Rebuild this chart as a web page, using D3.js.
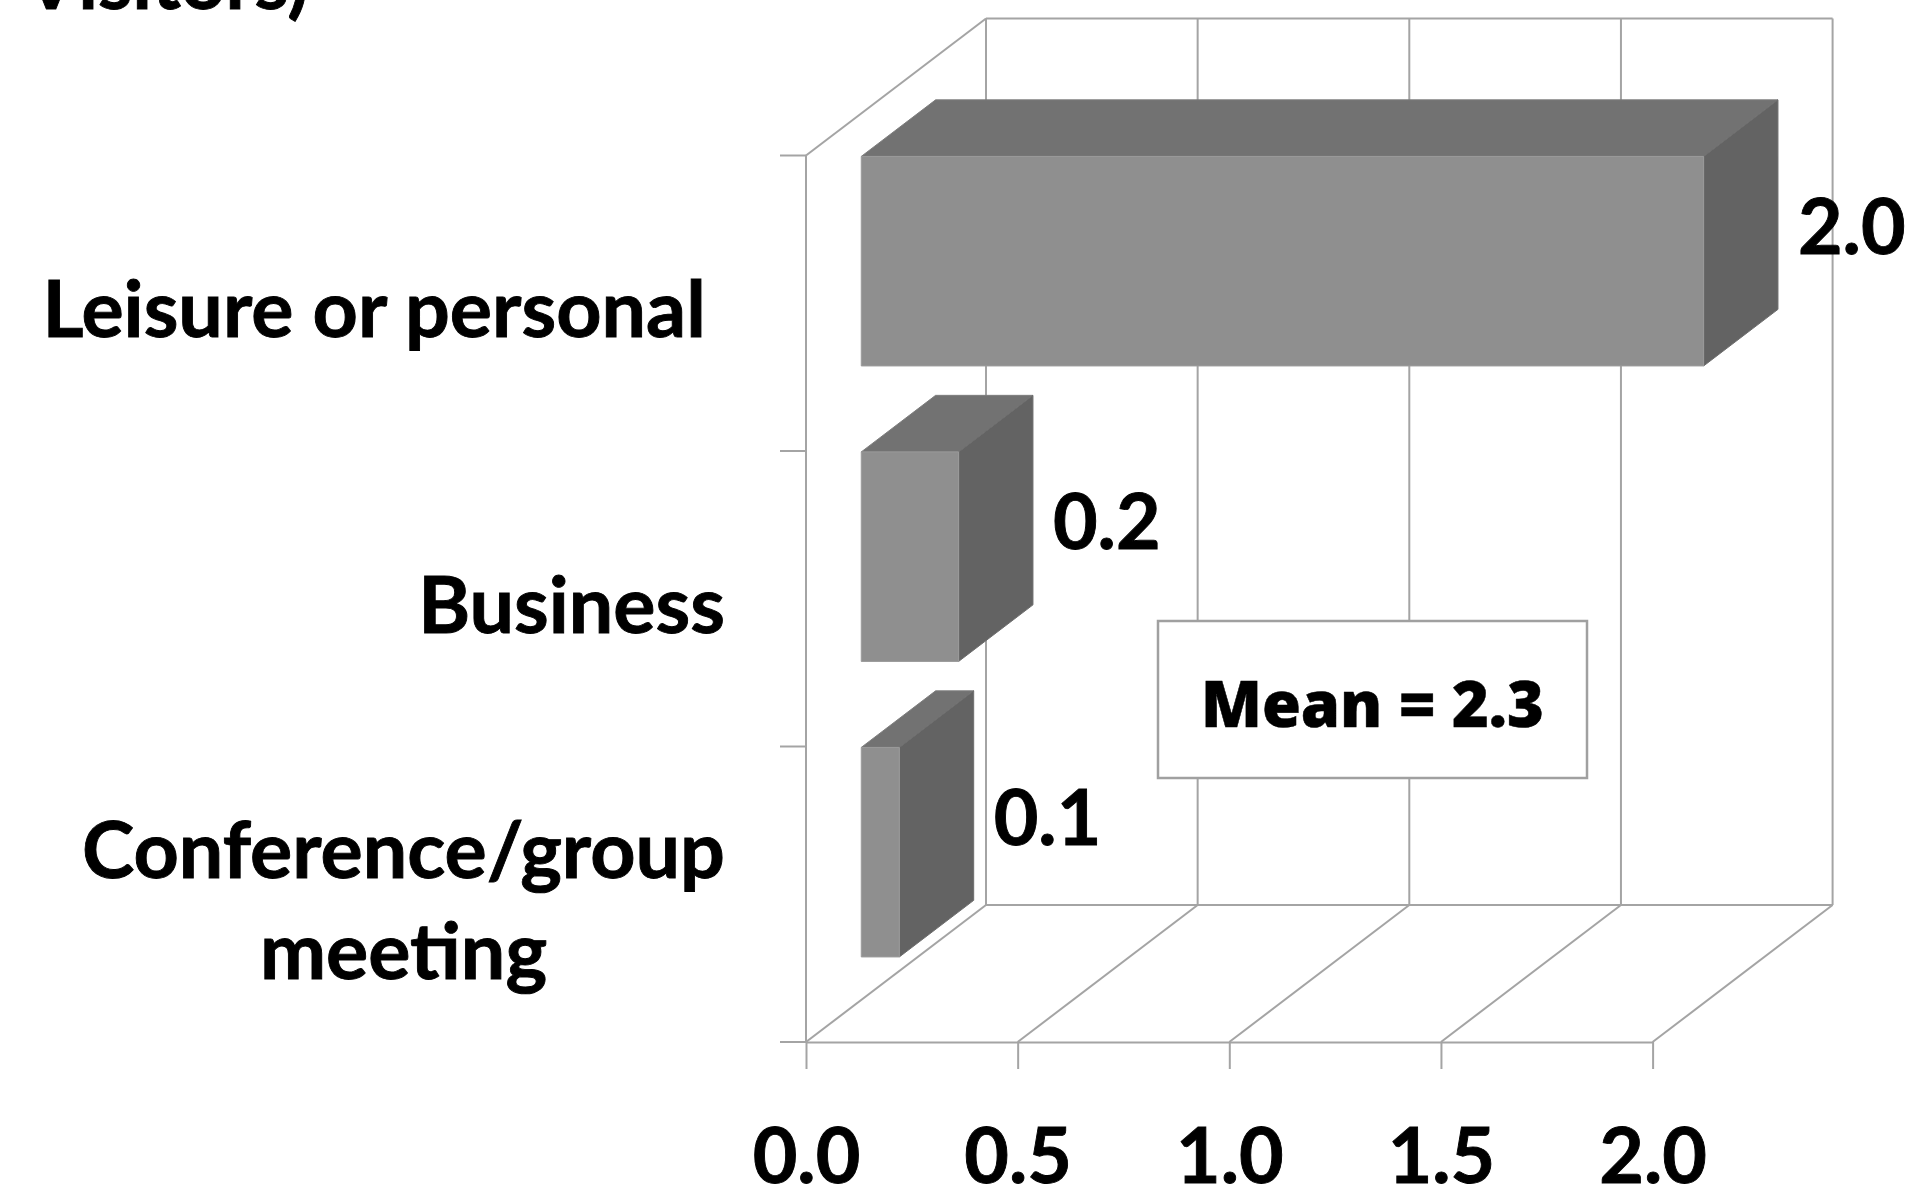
<!DOCTYPE html>
<html>
<head>
<meta charset="utf-8">
<script src="https://cdn.jsdelivr.net/npm/d3@7/dist/d3.min.js"></script>
<style>
  html, body { margin: 0; padding: 0; background: #ffffff; }
  svg { display: block; }
  text { font-family: Lato, "Open Sans", sans-serif; font-weight: 700; fill: #000; stroke: #000; stroke-width: 0.9px; }
</style>
</head>
<body>
<svg id="chart" width="1921" height="1191"></svg>
<script>
// ---- data ----
const titleText = "Visitors)";
const categories = ["Leisure or personal ", "Business", "Conference/group\nmeeting"];
const values = [1.99, 0.23, 0.09];
const xTicks = [0, 0.5, 1.0, 1.5, 2.0];
const meanPrefix = "Mean = ";

// ---- layout ----
const W = 1921, H = 1191;
const L = { x0: 806, x1: 1652.6, yTop: 155.5, yBot: 1042, dx: 180, dy: -137, tF: 0.307, tB: 0.72 };
const gridColor = "#a4a4a4";
const fmt = d3.format(".1f");

const svg = d3.select("#chart");

const x = d3.scaleLinear().domain([0, 2]).range([L.x0, L.x1]);
const y = d3.scaleBand().domain(categories).range([L.yTop, L.yBot])
  .paddingInner(0.291).paddingOuter(0.1455);
const P = (v, yy, t) => [x(v) + t * L.dx, yy + t * L.dy];

const grid = svg.append("g").attr("stroke", gridColor).attr("stroke-width", 2).attr("fill", "none");
const seg = (a, b) => grid.append("line").attr("x1", a[0]).attr("y1", a[1]).attr("x2", b[0]).attr("y2", b[1]);

// back wall
xTicks.forEach(v => seg(P(v, L.yBot, 1), P(v, L.yTop, 1)));
seg(P(0, L.yTop, 1), P(2, L.yTop, 1));
// floor
seg(P(0, L.yBot, 1), P(2, L.yBot, 1));
xTicks.forEach(v => seg(P(v, L.yBot, 0), P(v, L.yBot, 1)));
// left wall
seg(P(0, L.yTop, 0), P(0, L.yBot, 0));
seg(P(0, L.yTop, 0), P(0, L.yTop, 1));
// category ticks
const step = y.step();
for (let i = 0; i <= categories.length; i++) {
  const yy = L.yTop + i * step;
  seg([x(0) - 26, yy], [x(0), yy]);
}

// x axis (front floor edge + ticks + labels)
const xAxis = d3.axisBottom(x).tickValues(xTicks).tickFormat(fmt).tickSize(27).tickSizeOuter(0);
const ax = svg.append("g").attr("transform", `translate(0,${L.yBot})`).call(xAxis);
ax.select(".domain").attr("stroke", gridColor).attr("stroke-width", 2);
ax.selectAll(".tick line").attr("stroke", gridColor).attr("stroke-width", 2);
ax.selectAll(".tick text")
  .attr("y", 141).attr("dy", null)
  .style("font-family", "Lato, sans-serif").style("font-weight", 700)
  .style("font-size", "77px").attr("fill", "#000");

// bars
const data = categories.map((c, i) => ({ c, v: values[i] }));
const bw = y.bandwidth();
const poly = pts => pts.map(p => p.join(",")).join(" ");
const bars = svg.append("g");
data.forEach(d => {
  const y0 = y(d.c), y1 = y0 + bw;
  bars.append("polygon").attr("points", poly([P(0, y0, L.tF), P(0, y0, L.tB), P(d.v, y0, L.tB), P(d.v, y0, L.tF)]))
    .attr("fill", "#727272").attr("stroke", "#7e7e7e").attr("stroke-width", 1);
  bars.append("polygon").attr("points", poly([P(d.v, y0, L.tF), P(d.v, y0, L.tB), P(d.v, y1, L.tB), P(d.v, y1, L.tF)]))
    .attr("fill", "#636363").attr("stroke", "#6e6e6e").attr("stroke-width", 1);
  bars.append("polygon").attr("points", poly([P(0, y0, L.tF), P(d.v, y0, L.tF), P(d.v, y1, L.tF), P(0, y1, L.tF)]))
    .attr("fill", "#8f8f8f").attr("stroke", "#9b9b9b").attr("stroke-width", 1);

  const bt = P(d.v, y0, L.tB), fb = P(d.v, y1, L.tF);
  svg.append("text").attr("x", bt[0] + 20).attr("y", (bt[1] + fb[1]) / 2 + 21)
    .style("font-size", "77px").text(fmt(d.v));
});

// category labels
const labelRight = 725, lineH = 101;
data.forEach(d => {
  const lines = d.c.split("\n");
  const cy = y(d.c) + bw / 2;
  const g = svg.append("g");
  const ts = lines.map((ln, i) => g.append("text")
    .attr("y", cy + 34 + (i - (lines.length - 1) / 2) * lineH)
    .style("font-size", "79px").style("white-space", "pre").text(ln));
  if (lines.length === 1) {
    ts[0].attr("x", labelRight).attr("text-anchor", "end");
  } else {
    const maxW = d3.max(ts, t => t.node().getComputedTextLength());
    ts.forEach(t => t.attr("x", labelRight - maxW / 2).attr("text-anchor", "middle"));
  }
});

// mean box
svg.append("rect").attr("x", 1158).attr("y", 621).attr("width", 429).attr("height", 157)
  .attr("fill", "#fff").attr("stroke", "#a0a0a0").attr("stroke-width", 2.5);
svg.append("text").attr("x", 1372.5).attr("y", 727).attr("text-anchor", "middle")
  .style("font-family", "'Open Sans', sans-serif").style("font-weight", 800).style("font-size", "63px")
  .style("stroke-width", "0.5px")
  .text(meanPrefix + fmt(d3.sum(values)));

// title fragment (cut off at top)
svg.append("text").attr("x", 24).attr("y", 9).style("font-size", "78px").text(titleText);
</script>
</body>
</html>
